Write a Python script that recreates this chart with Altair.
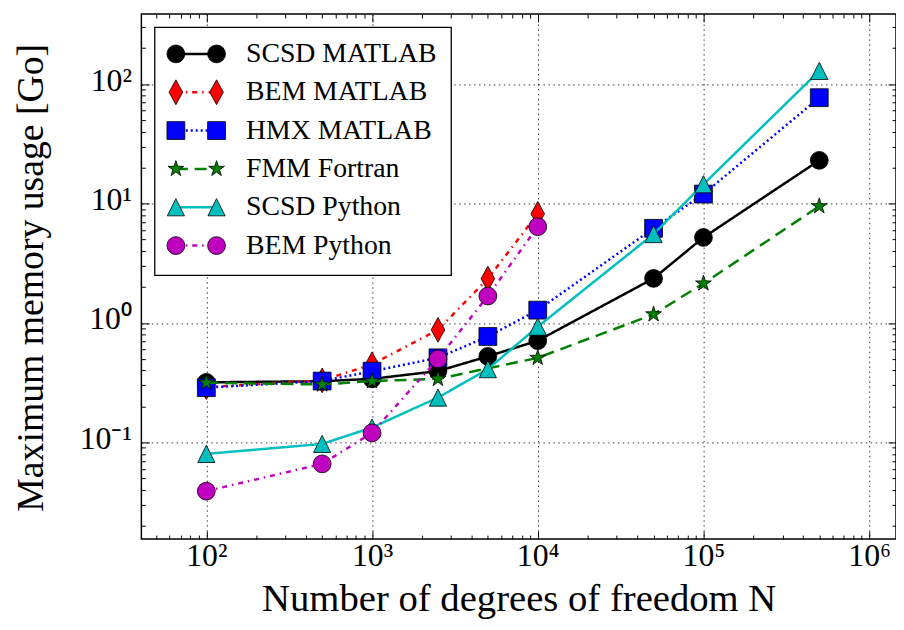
import altair as alt
import pandas as pd
import numpy as np

# ---------------- data ----------------
N_scsd_matlab = [1e2, 5e2, 1e3, 2.5e3, 5e3, 1e4, 5e4, 1e5, 5e5]
mem_scsd_matlab = [0.318, 0.325, 0.34, 0.395, 0.525, 0.71, 2.36, 5.2, 23.0]

N_bem_matlab = [1e2, 5e2, 1e3, 2.5e3, 5e3, 1e4]
mem_bem_matlab = [0.29, 0.33, 0.45, 0.875, 2.35, 8.2]

N_hmx_matlab = [1e2, 5e2, 1e3, 2.5e3, 5e3, 1e4, 5e4, 1e5, 5e5]
mem_hmx_matlab = [0.287, 0.326, 0.394, 0.51, 0.77, 1.28, 6.2, 12.0, 77.0]

N_fmm_fortran = [1e2, 5e2, 1e3, 2.5e3, 1e4, 5e4, 1e5, 5e5]
mem_fmm_fortran = [0.316, 0.305, 0.326, 0.34, 0.51, 1.18, 2.14, 9.5]

N_scsd_python = [1e2, 5e2, 1e3, 2.5e3, 5e3, 1e4, 5e4, 1e5, 5e5]
mem_scsd_python = [0.080, 0.097, 0.133, 0.237, 0.41, 0.93, 5.55, 14.5, 129.0]

N_bem_python = [1e2, 5e2, 1e3, 2.5e3, 5e3, 1e4]
mem_bem_python = [0.039, 0.066, 0.12, 0.5, 1.68, 6.4]

labels = ["SCSD MATLAB", "BEM MATLAB", "HMX MATLAB",
          "FMM Fortran", "SCSD Python", "BEM Python"]

x_major = [1e2, 1e3, 1e4, 1e5, 1e6]
y_major = [1e-1, 1e0, 1e1, 1e2]

x_title = "Number of degrees of freedom N"
y_title = "Maximum memory usage [Go]"

# ---------------- styles ----------------
FONT = "Liberation Serif, Times New Roman, Times, serif"
W, H = 761, 529.5
xdom = [40.55, 1.452e6]
ydom = [0.01547, 386.5]

DIAMOND = "M0,-1L0.55,0L0,1L-0.55,0Z"
TRIANGLE = "M0,-1L1,1L-1,1Z"
STAR = ("M0,-1L0.2245,-0.309L0.9511,-0.309L0.3633,0.118L0.5878,0.809"
        "L0,0.382L-0.5878,0.809L-0.3633,0.118L-0.9511,-0.309L-0.2245,-0.309Z")

styles = [
    dict(color="#000000", dash=[1, 0], shape="circle", size=324),
    dict(color="#ff0000", dash=[5, 5, 1.5, 5], shape=DIAMOND, size=625),
    dict(color="#0000ff", dash=[2, 3], shape="square", size=324),
    dict(color="#008000", dash=[12, 7], shape=STAR, size=280),
    dict(color="#00bfbf", dash=[1, 0], shape=TRIANGLE, size=300),
    dict(color="#bf00bf", dash=[5, 5, 1.5, 5], shape="circle", size=324),
]

series = [
    (N_scsd_matlab, mem_scsd_matlab),
    (N_bem_matlab, mem_bem_matlab),
    (N_hmx_matlab, mem_hmx_matlab),
    (N_fmm_fortran, mem_fmm_fortran),
    (N_scsd_python, mem_scsd_python),
    (N_bem_python, mem_bem_python),
]


def xs():
    return alt.Scale(type="log", domain=xdom, nice=False)


def ys():
    return alt.Scale(type="log", domain=ydom, nice=False)


def in_dom(v, d):
    return d[0] <= v <= d[1]


x_ticks = sorted([k * 10.0 ** p for p in range(1, 7) for k in range(1, 10)
                  if in_dom(k * 10.0 ** p, xdom)])
y_ticks = sorted([k * 10.0 ** p for p in range(-2, 3) for k in range(1, 10)
                  if in_dom(k * 10.0 ** p, ydom)])

EXP = "round(log(datum.value)/LN10)"
LABEL_EXPR = ("'10' + (" + EXP + " < 0 ? '\u207b' : '') + "
              "['\u2070','\u00b9','\u00b2','\u00b3','\u2074','\u2075','\u2076','\u2077','\u2078','\u2079']"
              "[abs(" + EXP + ")]")
MAJOR_TEST = "abs(log(datum.value)/LN10 - round(log(datum.value)/LN10)) < 0.001"
TICK_SIZE = {"condition": {"test": MAJOR_TEST, "value": 8}, "value": 4}

GRID = dict(grid=True, gridDash=[1.5, 3.5], gridColor="#222222", gridWidth=1, gridOpacity=0.9)

main_x_axis = alt.Axis(
    orient="bottom", values=x_major, labelExpr=LABEL_EXPR, labelFont=FONT,
    labelFontSize=32, labelColor="black", labelPadding=2, ticks=False, tickSize=0,
    domain=False, title=x_title, titleFont=FONT, titleFontSize=39,
    titleFontWeight="normal", titleColor="black", titleY=72,
    titleBaseline="alphabetic", **GRID)

main_y_axis = alt.Axis(
    orient="left", values=y_major, labelExpr=LABEL_EXPR, labelFont=FONT,
    labelFontSize=32, labelColor="black", labelPadding=10, labelOffset=-4,
    ticks=False, tickSize=0, domain=False, title=y_title, titleFont=FONT,
    titleFontSize=38, titleFontWeight="normal", titleColor="black",
    titleX=-99.5, titleY=265.5, titleAngle=270, titleAlign="center",
    titleBaseline="alphabetic", **GRID)

layers = []

# data lines + markers
for i, ((Ns, ms), st) in enumerate(zip(series, styles)):
    df = pd.DataFrame({"N": Ns, "mem": ms, "series": labels[i]})
    base = alt.Chart(df)
    line = base.mark_line(color=st["color"], strokeWidth=2.5, strokeDash=st["dash"]).encode(
        x=alt.X("N:Q", scale=xs(), axis=main_x_axis if i == 0 else None),
        y=alt.Y("mem:Q", scale=ys(), axis=main_y_axis if i == 0 else None),
    )
    pts = base.mark_point(shape=st["shape"], size=st["size"], filled=True,
                          color=st["color"], fill=st["color"], stroke="black",
                          strokeWidth=0.8, opacity=1).encode(
        x=alt.X("N:Q", scale=xs(), axis=None),
        y=alt.Y("mem:Q", scale=ys(), axis=None),
    )
    layers += [line, pts]

# inward ticks on all four sides
tick_df = pd.DataFrame({"N": N_scsd_matlab, "mem": mem_scsd_matlab})


def tick_axis(orient, offset, values):
    return alt.Axis(orient=orient, offset=offset, values=values, labels=False,
                    domain=False, grid=False, ticks=True, tickSize=TICK_SIZE,
                    tickColor="black", tickWidth=1, title=None)


for orient in ["top", "bottom"]:
    layers.append(alt.Chart(tick_df).mark_point(opacity=0).encode(
        x=alt.X("N:Q", scale=xs(), axis=tick_axis(orient, -H, x_ticks)),
        y=alt.Y("mem:Q", scale=ys(), axis=None)))
for orient in ["left", "right"]:
    layers.append(alt.Chart(tick_df).mark_point(opacity=0).encode(
        x=alt.X("N:Q", scale=xs(), axis=None),
        y=alt.Y("mem:Q", scale=ys(), axis=tick_axis(orient, -W, y_ticks))))

# legend
leg_box = alt.Chart(pd.DataFrame({"box": [0]})).mark_rect(
    fill="white", stroke="black", strokeWidth=1.3).encode(
    x=alt.value(13.5), x2=alt.value(312.5), y=alt.value(13.5), y2=alt.value(263.5))
layers.append(leg_box)

ly = alt.Scale(type="point", domain=labels, range=[40.2, 233.5], padding=0)
for i, st in enumerate(styles):
    ldf = pd.DataFrame({"label": [labels[i]]})
    lb = alt.Chart(ldf)
    layers.append(lb.mark_rule(color=st["color"], strokeWidth=2.5, strokeDash=st["dash"]).encode(
        x=alt.value(34.8), x2=alt.value(75.8), y=alt.Y("label:N", scale=ly, axis=None)))
    for xp in [34.8, 75.8]:
        layers.append(lb.mark_point(shape=st["shape"], size=st["size"], filled=True,
                                    color=st["color"], fill=st["color"], stroke="black",
                                    strokeWidth=0.8, opacity=1).encode(
            x=alt.value(xp), y=alt.Y("label:N", scale=ly, axis=None)))

leg_text = alt.Chart(pd.DataFrame({"label": labels})).mark_text(
    align="left", baseline="middle", font=FONT, fontSize=28, color="black").encode(
    x=alt.value(105.5), y=alt.Y("label:N", scale=ly, axis=None), text="label:N")
layers.append(leg_text)

chart = alt.layer(*layers).resolve_scale(
    x="independent", y="independent"
).properties(
    width=W, height=H,
    autosize=alt.AutoSizeParams(type="none"),
    padding={"left": 134.5, "top": 3.5, "right": 0, "bottom": 79},
    background="white",
).configure_view(stroke="black", strokeWidth=1.5)

chart.save("out.html", embed_options={"renderer": "svg", "actions": False})
